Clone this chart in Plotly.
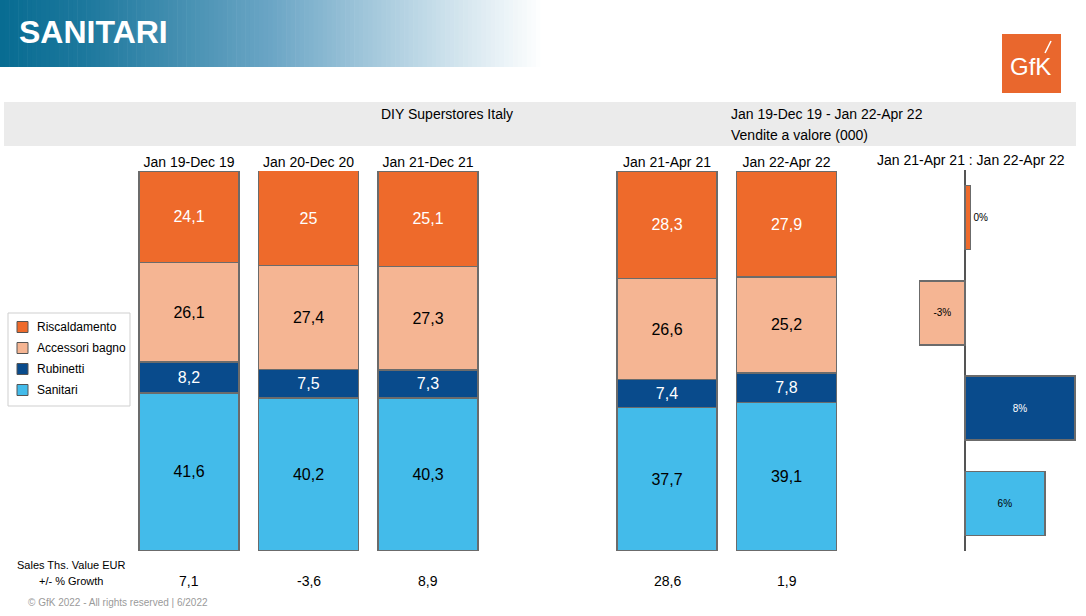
import plotly.graph_objects as go

W, H = 1086, 616

# column headers of the stacked chart (" " is the empty slot between the two groups)
periods = ["Jan 19-Dec 19", "Jan 20-Dec 20", "Jan 21-Dec 21", " ", "Jan 21-Apr 21", "Jan 22-Apr 22"]
bar_periods = ["Jan 19-Dec 19", "Jan 20-Dec 20", "Jan 21-Dec 21", "Jan 21-Apr 21", "Jan 22-Apr 22"]

# value shares (%) per segment, bottom to top of each stack
sanitari = [41.6, 40.2, 40.3, 37.7, 39.1]
rubinetti = [8.2, 7.5, 7.3, 7.4, 7.8]
accessori = [26.1, 27.4, 27.3, 26.6, 25.2]
riscaldamento = [24.1, 25, 25.1, 28.3, 27.9]

# sales value growth per period
growth_total = [7.1, -3.6, 8.9, 28.6, 1.9]

# Jan 21-Apr 21 : Jan 22-Apr 22 change per segment
segments = ["Riscaldamento", "Accessori bagno", "Rubinetti", "Sanitari"]
segment_change = [0.4, -3.3, 8.0, 5.8]

colors = {
    "Riscaldamento": "#ee6a2b",
    "Accessori bagno": "#f5b593",
    "Rubinetti": "#094b8c",
    "Sanitari": "#43bbea",
}
text_colors = {
    "Riscaldamento": "white",
    "Accessori bagno": "black",
    "Rubinetti": "white",
    "Sanitari": "black",
}
FONT = "Liberation Sans, Arial, sans-serif"
BORDER = "#6b6b6b"


def px(x):
    return x / W


def py(y):
    return 1 - y / H


def it(v):
    return f"{v:g}".replace(".", ",")


fig = go.Figure()

# stacked bars, added bottom to top
for name, vals in [("Sanitari", sanitari), ("Rubinetti", rubinetti),
                   ("Accessori bagno", accessori), ("Riscaldamento", riscaldamento)]:
    fig.add_trace(go.Bar(
        x=bar_periods, y=vals, name=name,
        width=0.837, showlegend=False,
        marker=dict(color=colors[name], line=dict(color=BORDER, width=1.5)),
        text=[it(v) for v in vals],
        textposition="inside", insidetextanchor="middle",
        textangle=0, constraintext="none",
        textfont=dict(color=text_colors[name], size=16, family=FONT),
        xaxis="x", yaxis="y",
        hoverinfo="skip",
    ))

# horizontal change bars
fig.add_trace(go.Bar(
    y=segments, x=segment_change, orientation="h",
    width=0.67, showlegend=False,
    marker=dict(color=[colors[s] for s in segments], line=dict(color=BORDER, width=1.5)),
    text=[f"{round(v):.0f}%" for v in segment_change],
    textposition=["outside", "inside", "inside", "inside"],
    insidetextanchor="middle", textangle=0, constraintext="none",
    textfont=dict(color=["black", "black", "white", "black"], size=10, family=FONT),
    cliponaxis=False,
    xaxis="x2", yaxis="y2",
    hoverinfo="skip",
))

shapes = []

# gradient banner built from thin strips
stops = [(0.0, (8, 108, 146)), (0.15, (28, 120, 157)), (0.5, (108, 166, 197)),
         (0.8, (198, 221, 233)), (1.0, (255, 255, 255))]


def grad(t):
    for (t0, c0), (t1, c1) in zip(stops[:-1], stops[1:]):
        if t <= t1:
            f = (t - t0) / (t1 - t0)
            return "rgb(%d,%d,%d)" % tuple(round(a + (b - a) * f) for a, b in zip(c0, c1))
    return "white"


n = 120
bw = 545 / n
for i in range(n):
    shapes.append(dict(type="rect", xref="paper", yref="paper",
                       x0=px(i * bw), x1=px((i + 1) * bw + 0.6), y0=py(67), y1=py(0),
                       fillcolor=grad(i / (n - 1)), line=dict(width=0), layer="below"))

# grey header band
shapes.append(dict(type="rect", xref="paper", yref="paper",
                   x0=px(4), x1=px(1076), y0=py(146), y1=py(102),
                   fillcolor="#ebebeb", line=dict(width=0), layer="below"))

# GfK logo
shapes.append(dict(type="rect", xref="paper", yref="paper",
                   x0=px(1002), x1=px(1061), y0=py(93), y1=py(34),
                   fillcolor="#e9672d", line=dict(width=0)))
shapes.append(dict(type="line", xref="paper", yref="paper",
                   x0=px(1045), x1=px(1051), y0=py(53), y1=py(41),
                   line=dict(color="white", width=1.5)))

# legend box (drawn by hand to match the slide layout)
shapes.append(dict(type="rect", xref="paper", yref="paper",
                   x0=px(8), x1=px(130), y0=py(406), y1=py(313),
                   fillcolor="white", line=dict(color="#cfcfcf", width=1)))

annotations = [
    dict(text="<b>SANITARI</b>", x=px(17), y=py(32), xanchor="left", yanchor="middle",
         font=dict(size=32, color="white", family=FONT)),
    dict(text="GfK", x=px(1030), y=py(67), xanchor="center", yanchor="middle",
         font=dict(size=24, color="white", family=FONT)),
    dict(text="DIY Superstores Italy", x=px(447), y=py(114), xanchor="center", yanchor="middle",
         font=dict(size=14, color="black", family=FONT)),
    dict(text="Jan 19-Dec 19 - Jan 22-Apr 22", x=px(729), y=py(114), xanchor="left", yanchor="middle",
         font=dict(size=14, color="black", family=FONT)),
    dict(text="Vendite a valore (000)", x=px(729), y=py(135), xanchor="left", yanchor="middle",
         font=dict(size=14, color="black", family=FONT)),
    dict(text="Jan 21-Apr 21 : Jan 22-Apr 22", x=px(971), y=py(160), xanchor="center", yanchor="middle",
         font=dict(size=14, color="black", family=FONT)),
    dict(text="Sales Ths. Value EUR", x=px(15), y=py(565), xanchor="left", yanchor="middle",
         font=dict(size=11, color="black", family=FONT)),
    dict(text="+/- % Growth", x=px(37), y=py(581), xanchor="left", yanchor="middle",
         font=dict(size=11, color="black", family=FONT)),
    dict(text="© GfK 2022 - All rights reserved | 6/2022", x=px(26), y=py(602),
         xanchor="left", yanchor="middle",
         font=dict(size=10, color="#9a9a9a", family=FONT)),
]
for p, g in zip(bar_periods, growth_total):
    annotations.append(dict(text=it(g), x=p, xref="x", y=py(581), yref="paper",
                            xanchor="center", yanchor="middle", showarrow=False,
                            font=dict(size=14, color="black", family=FONT)))

# legend entries
for i, s in enumerate(segments):
    yc = 327 + i * 21
    shapes.append(dict(type="rect", xref="paper", yref="paper",
                       x0=px(17), x1=px(28), y0=py(yc + 5.5), y1=py(yc - 5.5),
                       fillcolor=colors[s], line=dict(color="#555555", width=1)))
    annotations.append(dict(text=s, x=px(35), y=py(yc), xanchor="left", yanchor="middle",
                            font=dict(size=12, color="black", family=FONT)))

for a in annotations:
    a.setdefault("xref", "paper")
    a.setdefault("yref", "paper")
    a.setdefault("showarrow", False)

fig.update_layout(
    width=W, height=H,
    margin=dict(l=0, r=0, t=0, b=0, pad=0),
    paper_bgcolor="white", plot_bgcolor="rgba(0,0,0,0)",
    barmode="stack",
    separators=",.",
    showlegend=False,
    font=dict(family=FONT, color="black"),
    shapes=shapes,
    annotations=annotations,
    xaxis=dict(domain=[px(129.25), px(846.25)], type="category",
               categoryorder="array", categoryarray=periods,
               range=[-0.5, 5.5], side="top", showgrid=False, zeroline=False,
               showline=False, ticks="", tickfont=dict(size=14, color="black"),
               tickvals=bar_periods),
    yaxis=dict(domain=[py(551), py(171)], range=[0, 100], visible=False),
    xaxis2=dict(domain=[px(870), px(1080)], range=[-95 / 13.75, 115 / 13.75],
                anchor="y2", showgrid=False, showticklabels=False, ticks="",
                zeroline=True, zerolinecolor="#555555", zerolinewidth=1.5),
    yaxis2=dict(domain=[py(551), py(170)], anchor="x2", type="category",
                categoryorder="array", categoryarray=segments,
                range=[3.5, -0.5], showgrid=False, showticklabels=False,
                ticks="", zeroline=False, showline=False),
)

# drop the browser's default body margin so the figure sits at the page corner
fig.write_html("out.html", config={"displayModeBar": False},
               post_script="document.body.style.margin='0';")
